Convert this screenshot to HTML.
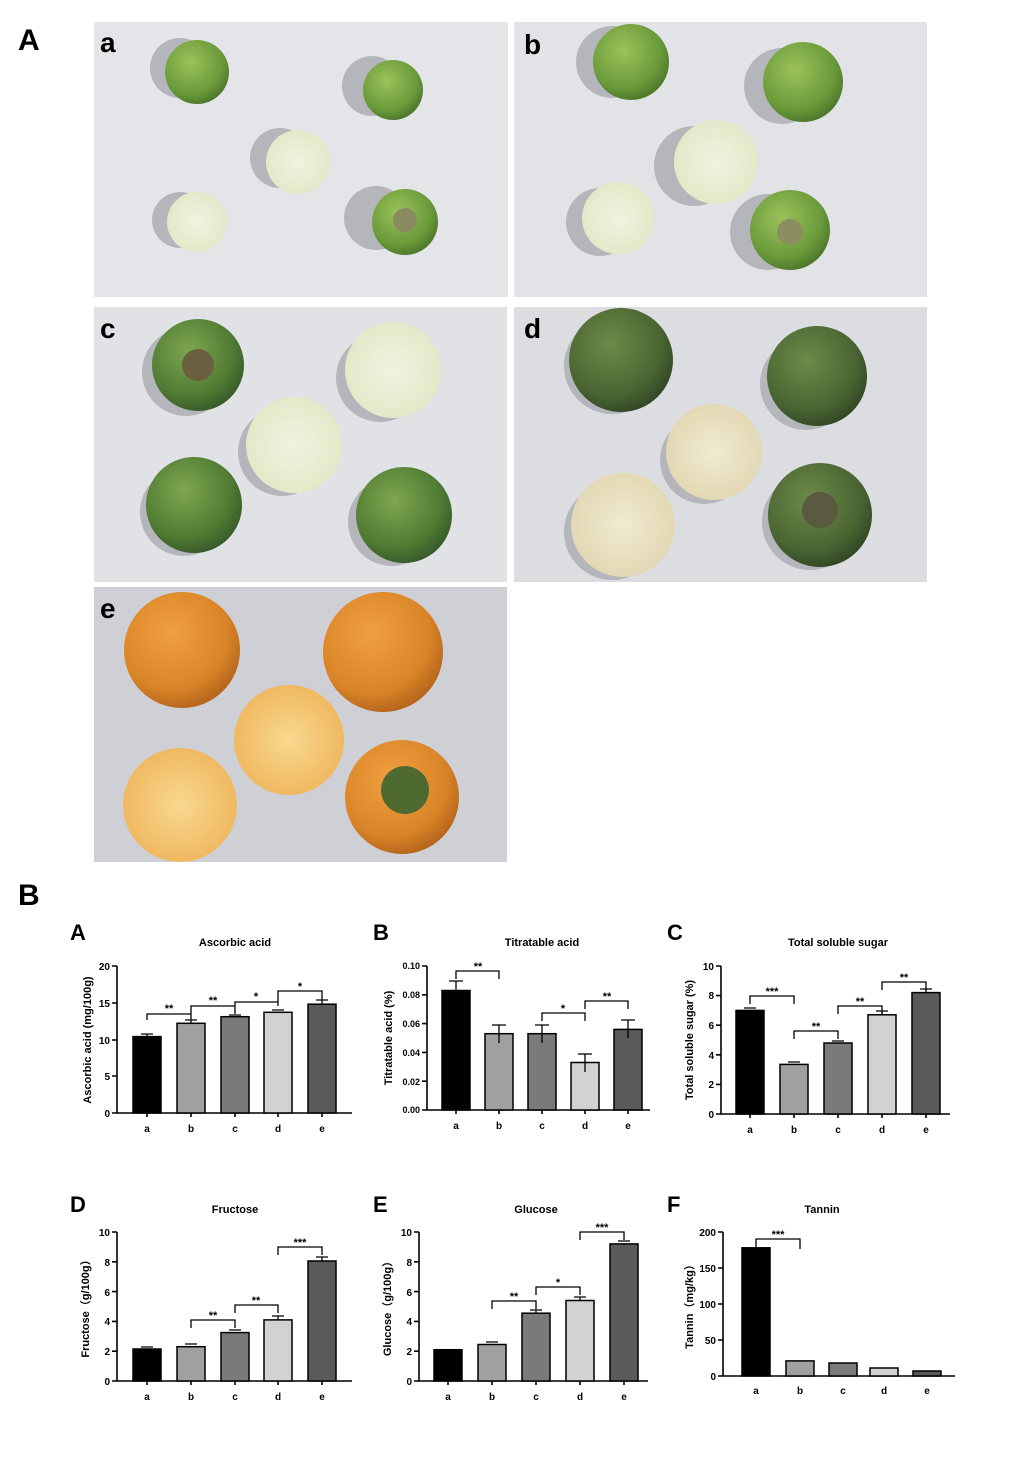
<!DOCTYPE html>
<html><head><meta charset="utf-8"><style>
html,body{margin:0;padding:0;background:#fff}
svg{display:block}
text{font-family:"Liberation Sans","Noto Sans CJK SC",sans-serif}
</style></head><body>
<svg width="1024" height="1465" viewBox="0 0 1024 1465" xmlns="http://www.w3.org/2000/svg">
<defs>
<radialGradient id="g1" cx="40%" cy="35%" r="70%"><stop offset="0" stop-color="#9cc25a"/><stop offset="0.7" stop-color="#6a9a3a"/><stop offset="1" stop-color="#4a7228"/></radialGradient>
<radialGradient id="g2" cx="40%" cy="35%" r="70%"><stop offset="0" stop-color="#7fa650"/><stop offset="0.7" stop-color="#4f7a32"/><stop offset="1" stop-color="#35562a"/></radialGradient>
<radialGradient id="g3" cx="40%" cy="35%" r="70%"><stop offset="0" stop-color="#6e8a48"/><stop offset="0.7" stop-color="#4a6432"/><stop offset="1" stop-color="#2f4424"/></radialGradient>
<radialGradient id="p1" cx="50%" cy="50%" r="60%"><stop offset="0" stop-color="#f2f2e0"/><stop offset="0.85" stop-color="#e4e8c8"/><stop offset="1" stop-color="#8fae5a"/></radialGradient>
<radialGradient id="p2" cx="50%" cy="50%" r="60%"><stop offset="0" stop-color="#f0ead0"/><stop offset="0.85" stop-color="#e2d8b4"/><stop offset="1" stop-color="#7c8e52"/></radialGradient>
<radialGradient id="o1" cx="40%" cy="35%" r="70%"><stop offset="0" stop-color="#f0a040"/><stop offset="0.7" stop-color="#d98428"/><stop offset="1" stop-color="#b0601a"/></radialGradient>
<radialGradient id="o2" cx="50%" cy="50%" r="60%"><stop offset="0" stop-color="#f8d890"/><stop offset="0.85" stop-color="#f0b860"/><stop offset="1" stop-color="#d08830"/></radialGradient>
</defs>

<!-- Big labels -->
<text x="18" y="50" font-size="30" font-weight="bold">A</text>
<text x="18" y="905" font-size="30" font-weight="bold">B</text>

<!-- Photo panels -->
<rect x="94" y="22" width="414" height="275" fill="#e3e5e9"/>
<rect x="514" y="22" width="413" height="275" fill="#e2e3e6"/>
<rect x="94" y="307" width="413" height="275" fill="#e1e2e6"/>
<rect x="514" y="307" width="413" height="275" fill="#dcdde1"/>
<rect x="94" y="587" width="413" height="275" fill="#cfd0d6"/>

<g fill="#b4b6bc">
<circle cx="180" cy="68" r="30"/><circle cx="372" cy="86" r="30"/><circle cx="280" cy="158" r="30"/><circle cx="180" cy="220" r="28"/><circle cx="376" cy="218" r="32"/>
<circle cx="612" cy="62" r="36"/><circle cx="782" cy="86" r="38"/><circle cx="694" cy="166" r="40"/><circle cx="600" cy="222" r="34"/><circle cx="768" cy="232" r="38"/>
<circle cx="186" cy="372" r="44"/><circle cx="380" cy="378" r="44"/><circle cx="282" cy="452" r="44"/><circle cx="184" cy="512" r="44"/><circle cx="392" cy="522" r="44"/>
<circle cx="612" cy="366" r="48"/><circle cx="806" cy="384" r="46"/><circle cx="704" cy="460" r="44"/><circle cx="612" cy="532" r="48"/><circle cx="810" cy="522" r="48"/>
</g>
<g>
<circle cx="197" cy="72" r="32" fill="url(#g1)"/>
<circle cx="393" cy="90" r="30" fill="url(#g1)"/>
<circle cx="298" cy="162" r="32" fill="url(#p1)"/>
<circle cx="197" cy="222" r="30" fill="url(#p1)"/>
<circle cx="405" cy="222" r="33" fill="url(#g1)"/><circle cx="405" cy="220" r="12" fill="#8a8a60"/>
<circle cx="631" cy="62" r="38" fill="url(#g1)"/>
<circle cx="803" cy="82" r="40" fill="url(#g1)"/>
<circle cx="716" cy="162" r="42" fill="url(#p1)"/>
<circle cx="618" cy="218" r="36" fill="url(#p1)"/>
<circle cx="790" cy="230" r="40" fill="url(#g1)"/><circle cx="790" cy="232" r="13" fill="#8a8e60"/>
<circle cx="198" cy="365" r="46" fill="url(#g2)"/><circle cx="198" cy="365" r="16" fill="#6a6040"/>
<circle cx="393" cy="370" r="48" fill="url(#p1)"/>
<circle cx="294" cy="445" r="48" fill="url(#p1)"/>
<circle cx="194" cy="505" r="48" fill="url(#g2)"/>
<circle cx="404" cy="515" r="48" fill="url(#g2)"/>
<circle cx="621" cy="360" r="52" fill="url(#g3)"/>
<circle cx="817" cy="376" r="50" fill="url(#g3)"/>
<circle cx="714" cy="452" r="48" fill="url(#p2)"/>
<circle cx="623" cy="525" r="52" fill="url(#p2)"/>
<circle cx="820" cy="515" r="52" fill="url(#g3)"/><circle cx="820" cy="510" r="18" fill="#5a5a40"/>
<circle cx="182" cy="650" r="58" fill="url(#o1)"/>
<circle cx="383" cy="652" r="60" fill="url(#o1)"/>
<circle cx="289" cy="740" r="55" fill="url(#o2)"/>
<circle cx="180" cy="805" r="57" fill="url(#o2)"/>
<circle cx="402" cy="797" r="57" fill="url(#o1)"/><circle cx="405" cy="790" r="24" fill="#4e6a30"/>
</g>
<g font-size="28" font-weight="bold">
<text x="100" y="52">a</text><text x="524" y="54">b</text><text x="100" y="338">c</text><text x="524" y="338">d</text><text x="100" y="618">e</text>
</g>

<!-- Charts common style -->
<g font-weight="bold" fill="#000">
<text x="70" y="940" font-size="22">A</text>
<text x="373" y="940" font-size="22">B</text>
<text x="667" y="940" font-size="22">C</text>
<text x="70" y="1212" font-size="22">D</text>
<text x="373" y="1212" font-size="22">E</text>
<text x="667" y="1212" font-size="22">F</text>
</g>
<g font-size="11" font-weight="bold" text-anchor="middle">
<text x="235" y="946">Ascorbic acid</text>
<text x="542" y="946">Titratable acid</text>
<text x="838" y="946">Total soluble sugar</text>
<text x="235" y="1213">Fructose</text>
<text x="536" y="1213">Glucose</text>
<text x="822" y="1213">Tannin</text>
</g>
<g font-size="11" font-weight="bold" text-anchor="middle">
<text transform="translate(91,1040) rotate(-90)">Ascorbic acid (mg/100g)</text>
<text transform="translate(392,1038) rotate(-90)">Titratable acid (%)</text>
<text transform="translate(693,1040) rotate(-90)">Total soluble sugar (%)</text>
<text transform="translate(89,1306) rotate(-90)">Fructose（g/100g）</text>
<text transform="translate(391,1306) rotate(-90)">Glucose（g/100g）</text>
<text transform="translate(693,1304) rotate(-90)">Tannin（mg/kg）</text>
</g>

<!-- Chart A -->
<g stroke="#000" stroke-width="1.6" fill="none">
<path d="M117 966V1113H352"/>
<path d="M112 966h5M112 1003h5M112 1040h5M112 1076h5M112 1113h5"/>
<path d="M147 1113v4M191 1113v4M235 1113v4M278 1113v4M322 1113v4"/>
</g>
<g font-size="10" font-weight="bold" text-anchor="end"><text x="110" y="970">20</text><text x="110" y="1007">15</text><text x="110" y="1044">10</text><text x="110" y="1080">5</text><text x="110" y="1117">0</text></g>
<g stroke="#000" stroke-width="1.5">
<rect x="133" y="1036.6" width="28" height="76.4" fill="#000"/>
<rect x="177" y="1023.3" width="28" height="89.7" fill="#a0a0a0"/>
<rect x="221" y="1016.7" width="28" height="96.3" fill="#7a7a7a"/>
<rect x="264" y="1012.3" width="28" height="100.7" fill="#d2d2d2"/>
<rect x="308" y="1004.2" width="28" height="108.8" fill="#5a5a5a"/>
</g>
<g stroke="#000" stroke-width="1.3" fill="none">
<path d="M141 1034h12M147 1034v3M185 1020h12M191 1020v3M229 1015h12M272 1010h12M316 1000h12M322 1000v4"/>
<path d="M147 1020v-6h44v6M191 1014v-8h44v8M235 1006v-4h43v4M278 1002v-11h44v9"/>
</g>
<g font-size="11" font-weight="bold" text-anchor="middle"><text x="169" y="1012">**</text><text x="213" y="1004">**</text><text x="256" y="1000">*</text><text x="300" y="990">*</text></g>
<g font-size="10" font-weight="bold" text-anchor="middle"><text x="147" y="1132">a</text><text x="191" y="1132">b</text><text x="235" y="1132">c</text><text x="278" y="1132">d</text><text x="322" y="1132">e</text></g>

<!-- Chart B -->
<g stroke="#000" stroke-width="1.6" fill="none">
<path d="M427 966V1110H650"/>
<path d="M422 966h5M422 994.8h5M422 1023.6h5M422 1052.4h5M422 1081.2h5M422 1110h5"/>
<path d="M456 1110v4M499 1110v4M542 1110v4M585 1110v4M628 1110v4"/>
</g>
<g font-size="9" font-weight="bold" text-anchor="end"><text x="420" y="969">0.10</text><text x="420" y="998">0.08</text><text x="420" y="1027">0.06</text><text x="420" y="1056">0.04</text><text x="420" y="1085">0.02</text><text x="420" y="1113">0.00</text></g>
<g stroke="#000" stroke-width="1.5">
<rect x="442" y="990.5" width="28" height="119.5" fill="#000"/>
<rect x="485" y="1033.7" width="28" height="76.3" fill="#a0a0a0"/>
<rect x="528" y="1033.7" width="28" height="76.3" fill="#7a7a7a"/>
<rect x="571" y="1062.5" width="28" height="47.5" fill="#d2d2d2"/>
<rect x="614" y="1029.4" width="28" height="80.6" fill="#5a5a5a"/>
</g>
<g stroke="#000" stroke-width="1.3" fill="none">
<path d="M449 981h14M456 981v10M492 1025h14M499 1025v18M535 1025h14M542 1025v18M578 1054h14M585 1054v18M621 1020h14M628 1020v18"/>
<path d="M456 979v-8h43v8M542 1021v-8h43v8M585 1009v-8h43v8"/>
</g>
<g font-size="11" font-weight="bold" text-anchor="middle"><text x="478" y="970">**</text><text x="563" y="1012">*</text><text x="607" y="1000">**</text></g>
<g font-size="10" font-weight="bold" text-anchor="middle"><text x="456" y="1129">a</text><text x="499" y="1129">b</text><text x="542" y="1129">c</text><text x="585" y="1129">d</text><text x="628" y="1129">e</text></g>

<!-- Chart C -->
<g stroke="#000" stroke-width="1.6" fill="none">
<path d="M721 966V1114H950"/>
<path d="M716 966h5M716 995.6h5M716 1025.2h5M716 1054.8h5M716 1084.4h5M716 1114h5"/>
<path d="M750 1114v4M794 1114v4M838 1114v4M882 1114v4M926 1114v4"/>
</g>
<g font-size="10" font-weight="bold" text-anchor="end"><text x="714" y="970">10</text><text x="714" y="999">8</text><text x="714" y="1029">6</text><text x="714" y="1059">4</text><text x="714" y="1088">2</text><text x="714" y="1118">0</text></g>
<g stroke="#000" stroke-width="1.5">
<rect x="736" y="1010.4" width="28" height="103.6" fill="#000"/>
<rect x="780" y="1064.4" width="28" height="49.6" fill="#a0a0a0"/>
<rect x="824" y="1043" width="28" height="71" fill="#7a7a7a"/>
<rect x="868" y="1014.8" width="28" height="99.2" fill="#d2d2d2"/>
<rect x="912" y="992.6" width="28" height="121.4" fill="#5a5a5a"/>
</g>
<g stroke="#000" stroke-width="1.3" fill="none">
<path d="M744 1008h12M788 1062h12M832 1041h12M876 1011h12M882 1011v4M920 989h12M926 989v4"/>
<path d="M750 1004v-8h44v8M794 1039v-8h44v8M838 1014v-8h44v8M882 990v-8h44v8"/>
</g>
<g font-size="11" font-weight="bold" text-anchor="middle"><text x="772" y="995">***</text><text x="816" y="1030">**</text><text x="860" y="1005">**</text><text x="904" y="981">**</text></g>
<g font-size="10" font-weight="bold" text-anchor="middle"><text x="750" y="1133">a</text><text x="794" y="1133">b</text><text x="838" y="1133">c</text><text x="882" y="1133">d</text><text x="926" y="1133">e</text></g>

<!-- Chart D -->
<g stroke="#000" stroke-width="1.6" fill="none">
<path d="M117 1232V1381H352"/>
<path d="M112 1232h5M112 1261.8h5M112 1291.6h5M112 1321.4h5M112 1351.2h5M112 1381h5"/>
<path d="M147 1381v4M191 1381v4M235 1381v4M278 1381v4M322 1381v4"/>
</g>
<g font-size="10" font-weight="bold" text-anchor="end"><text x="110" y="1236">10</text><text x="110" y="1266">8</text><text x="110" y="1296">6</text><text x="110" y="1325">4</text><text x="110" y="1355">2</text><text x="110" y="1385">0</text></g>
<g stroke="#000" stroke-width="1.5">
<rect x="133" y="1349" width="28" height="32" fill="#000"/>
<rect x="177" y="1346.7" width="28" height="34.3" fill="#a0a0a0"/>
<rect x="221" y="1332.6" width="28" height="48.4" fill="#7a7a7a"/>
<rect x="264" y="1319.9" width="28" height="61.1" fill="#d2d2d2"/>
<rect x="308" y="1261" width="28" height="120" fill="#5a5a5a"/>
</g>
<g stroke="#000" stroke-width="1.3" fill="none">
<path d="M141 1347h12M185 1344h12M229 1330h12M272 1316h12M278 1316v4M316 1257h12M322 1257v4"/>
<path d="M191 1328v-8h44v8M235 1313v-8h43v8M278 1255v-8h44v8"/>
</g>
<g font-size="11" font-weight="bold" text-anchor="middle"><text x="213" y="1319">**</text><text x="256" y="1304">**</text><text x="300" y="1246">***</text></g>
<g font-size="10" font-weight="bold" text-anchor="middle"><text x="147" y="1400">a</text><text x="191" y="1400">b</text><text x="235" y="1400">c</text><text x="278" y="1400">d</text><text x="322" y="1400">e</text></g>

<!-- Chart E -->
<g stroke="#000" stroke-width="1.6" fill="none">
<path d="M419 1232V1381H648"/>
<path d="M414 1232h5M414 1261.8h5M414 1291.6h5M414 1321.4h5M414 1351.2h5M414 1381h5"/>
<path d="M448 1381v4M492 1381v4M536 1381v4M580 1381v4M624 1381v4"/>
</g>
<g font-size="10" font-weight="bold" text-anchor="end"><text x="412" y="1236">10</text><text x="412" y="1266">8</text><text x="412" y="1296">6</text><text x="412" y="1325">4</text><text x="412" y="1355">2</text><text x="412" y="1385">0</text></g>
<g stroke="#000" stroke-width="1.5">
<rect x="434" y="1349.7" width="28" height="31.3" fill="#000"/>
<rect x="478" y="1344.5" width="28" height="36.5" fill="#a0a0a0"/>
<rect x="522" y="1313.2" width="28" height="67.8" fill="#7a7a7a"/>
<rect x="566" y="1300.5" width="28" height="80.5" fill="#d2d2d2"/>
<rect x="610" y="1243.9" width="28" height="137.1" fill="#5a5a5a"/>
</g>
<g stroke="#000" stroke-width="1.3" fill="none">
<path d="M486 1342h12M530 1310h12M536 1310v4M574 1297h12M580 1297v4M618 1241h12"/>
<path d="M492 1309v-8h44v8M536 1295v-8h44v8M580 1240v-8h44v8"/>
</g>
<g font-size="11" font-weight="bold" text-anchor="middle"><text x="514" y="1300">**</text><text x="558" y="1286">*</text><text x="602" y="1231">***</text></g>
<g font-size="10" font-weight="bold" text-anchor="middle"><text x="448" y="1400">a</text><text x="492" y="1400">b</text><text x="536" y="1400">c</text><text x="580" y="1400">d</text><text x="624" y="1400">e</text></g>

<!-- Chart F -->
<g stroke="#000" stroke-width="1.6" fill="none">
<path d="M723 1232V1376H955"/>
<path d="M718 1232h5M718 1268h5M718 1304h5M718 1340h5M718 1376h5"/>
</g>
<g font-size="10" font-weight="bold" text-anchor="end"><text x="716" y="1236">200</text><text x="716" y="1272">150</text><text x="716" y="1308">100</text><text x="716" y="1344">50</text><text x="716" y="1380">0</text></g>
<g stroke="#000" stroke-width="1.5">
<rect x="742" y="1247.8" width="28" height="128.2" fill="#000"/>
<rect x="786" y="1360.9" width="28" height="15.1" fill="#a0a0a0"/>
<rect x="829" y="1363" width="28" height="13" fill="#7a7a7a"/>
<rect x="870" y="1368" width="28" height="8" fill="#d2d2d2"/>
<rect x="913" y="1371" width="28" height="5" fill="#5a5a5a"/>
</g>
<g stroke="#000" stroke-width="1.3" fill="none">
<path d="M756 1247v-8h44v10"/>
</g>
<g font-size="11" font-weight="bold" text-anchor="middle"><text x="778" y="1238">***</text></g>
<g font-size="10" font-weight="bold" text-anchor="middle"><text x="756" y="1394">a</text><text x="800" y="1394">b</text><text x="843" y="1394">c</text><text x="884" y="1394">d</text><text x="927" y="1394">e</text></g>
</svg>
</body></html>
